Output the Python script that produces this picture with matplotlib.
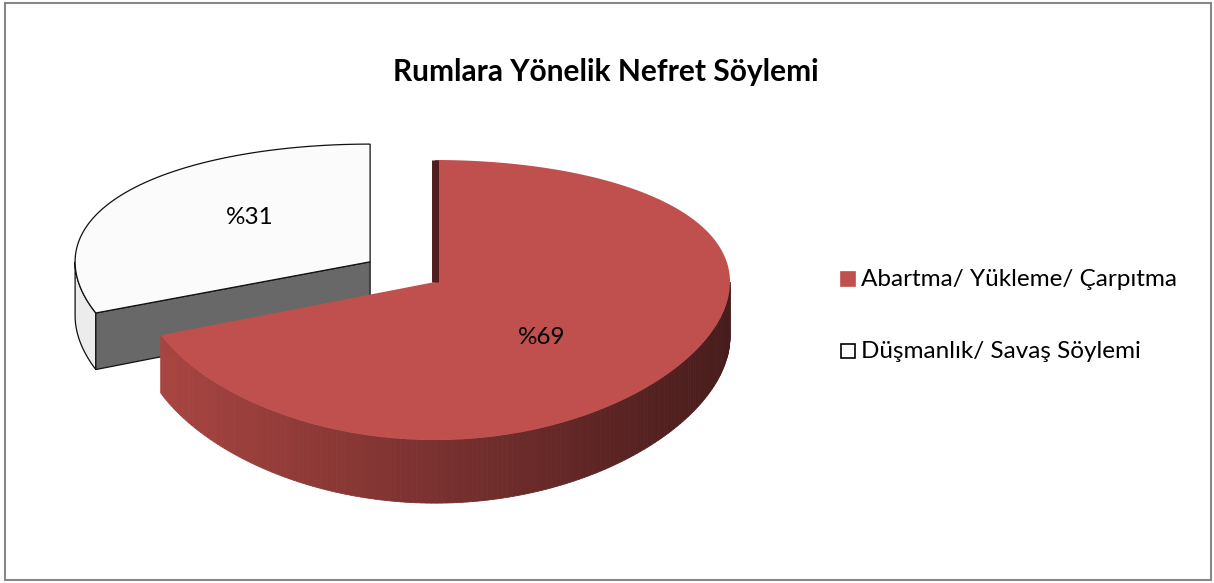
import numpy as np
import matplotlib
matplotlib.use("Agg")
import matplotlib.pyplot as plt
from matplotlib.patches import Polygon, Rectangle

# ---------------- data ----------------
title = "Rumlara Yönelik Nefret Söylemi"
categories = ["Abartma/ Yükleme/ Çarpıtma", "Düşmanlık/ Savaş Söylemi"]
values = [69, 31]
value_labels = ["%69", "%31"]
top_colors = ["#C0504D", "#FBFBFB"]
explode = [0.0, 0.266]

# ---------------- layout / style ----------------
W, H = 1214, 583
FONT = ["Lato", "DejaVu Sans"]
CX, CY = 435, 282          # pie centre on screen
A, B = 295, 137.7          # ellipse semi axes
K = 0.1286                 # perspective factor
DEPTH = 55                 # thickness
label_pos = [(0.36, -0.38), (-0.407, 0.346)]   # label anchor (model coords, rel. to slice centre)

fig = plt.figure(figsize=(W / 100, H / 100), dpi=100)
ax = fig.add_axes([0, 0, 1, 1])
ax.set_xlim(0, W)
ax.set_ylim(H, 0)
ax.axis("off")


def proj(X, Y, down=0.0):
    p = 1.0 / (1.0 + K * Y)
    return CX + A * X, CY - B * Y * p + down * DEPTH * p


def arc(cx, cy, t1, t2, n=200, down=0.0):
    t = np.radians(np.linspace(t1, t2, n))
    return [proj(cx + np.cos(a), cy + np.sin(a), down) for a in t]


def front_ranges(t1, t2):
    out = []
    for k in range(-2, 3):
        lo, hi = -180 + 360 * k, 360 * k
        a, b = max(t1, lo), min(t2, hi)
        if b > a:
            out.append((a, b))
    return out


def mix(c1, c2, f):
    return tuple(np.array(c1) * (1 - f) + np.array(c2) * f)


total = float(sum(values))
spans = []
start = 90.0
for v in values:
    end = start - v / total * 360.0
    spans.append((end, start))
    start = end

# draw the back (exploded) slice first, then the main one
order = [1, 0]
wall_left = (0.66, 0.27, 0.255)
wall_right = (0.28, 0.11, 0.11)

for i in order:
    t1, t2 = spans[i]
    mid = np.radians((t1 + t2) / 2)
    ex, ey = explode[i] * np.cos(mid), explode[i] * np.sin(mid)
    is_red = i == 0
    edge = "none" if is_red else "#111111"
    lw = 0 if is_red else 0.9

    # outer curved wall (front part)
    for a, b in front_ranges(t1, t2):
        if is_red:
            ts = np.radians(np.linspace(a, b, 160))
            top_pts = arc(ex, ey, a, b, 160)
            xs = [p[0] for p in top_pts]
            xmin, xmax = min(xs), max(xs)
            for j in range(len(ts) - 1):
                c0, s0 = ex + np.cos(ts[j]), ey + np.sin(ts[j])
                c1, s1 = ex + np.cos(ts[j + 1]), ey + np.sin(ts[j + 1])
                q = [proj(c0, s0), proj(c1, s1), proj(c1, s1, 1), proj(c0, s0, 1)]
                f = ((q[0][0] + q[1][0]) / 2 - xmin) / max(xmax - xmin, 1)
                c = mix(wall_left, wall_right, f)
                ax.add_patch(Polygon(q, closed=True, facecolor=c, edgecolor=c, lw=0.6))
        else:
            pts = arc(ex, ey, a, b, 60) + arc(ex, ey, b, a, 60, down=1)
            ax.add_patch(Polygon(pts, closed=True, facecolor="#ECECEC", edgecolor=edge, lw=lw))

    # radial cut faces
    for t, sgn in ((t1, 1), (t2, -1)):
        c = np.cos(np.radians(t))
        rim = (ex + np.cos(np.radians(t)), ey + np.sin(np.radians(t)))
        if abs(c) < 1e-6:
            if is_red:
                p0 = proj(*rim)
                p1 = proj(ex, ey)
                ax.plot([p0[0], p1[0]], [p0[1], p1[1]], color="#4E1D1C", lw=5,
                        solid_capstyle="butt")
            continue
        visible = (c > 0) if sgn == 1 else (c < 0)
        if visible:
            q = [proj(ex, ey), proj(*rim), proj(*rim, down=1), proj(ex, ey, down=1)]
            fc = "#686868" if not is_red else "#7A2E2C"
            ax.add_patch(Polygon(q, closed=True, facecolor=fc, edgecolor=edge, lw=lw))

    # top face
    pts = [proj(ex, ey)] + arc(ex, ey, t1, t2, 300)
    ax.add_patch(Polygon(pts, closed=True, facecolor=top_colors[i], edgecolor=edge, lw=lw))

    # label
    lx, ly = proj(ex + label_pos[i][0], ey + label_pos[i][1])
    ax.text(lx, ly, value_labels[i], ha="center", va="center", fontsize=17.5,
            family=FONT, color="black")

# title
ax.text(606, 72, title, ha="center", va="center", fontsize=21.5, fontweight="bold",
        family=FONT, color="black")

# legend
leg_y = [279, 351]
for k, cat in enumerate(categories):
    ec = top_colors[k] if k == 0 else "black"
    ax.add_patch(Rectangle((841, leg_y[k] - 7), 14, 14, facecolor=top_colors[k],
                           edgecolor=ec, lw=1.2))
    ax.text(861, leg_y[k], cat, ha="left", va="center", fontsize=17.5, family=FONT,
            color="black")

# chart border
ax.add_patch(Rectangle((5, 3), 1206, 577, facecolor="none", edgecolor="#888888", lw=1.5))

fig.savefig("out.png", dpi=100)
